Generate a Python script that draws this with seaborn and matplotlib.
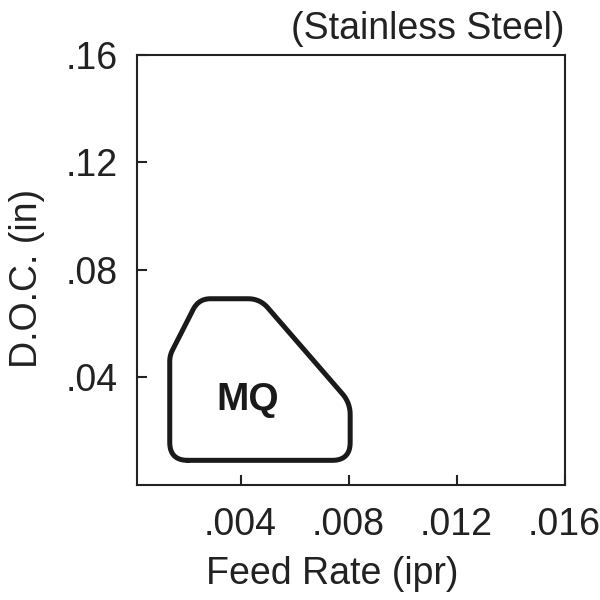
import numpy as np
import matplotlib
matplotlib.use("Agg")
import matplotlib.pyplot as plt
import seaborn as sns

# Chart data
region_label = "MQ"
region_feed = [0.00138, 0.00138, 0.00245, 0.00472, 0.00806, 0.00806]   # ipr
region_doc = [0.0091, 0.0481, 0.0692, 0.0692, 0.0305, 0.0091]          # in
corner_radius_px = [18, 6, 12, 12, 12, 18]
label_pos = (0.00425, 0.0279)

x_ticks = [0.004, 0.008, 0.012, 0.016]
x_tick_labels = [".004", ".008", ".012", ".016"]
y_ticks = [0.04, 0.08, 0.12, 0.16]
y_tick_labels = [".04", ".08", ".12", ".16"]

sns.set_theme(style="white")
plt.rcParams['font.family'] = ['Liberation Sans', 'DejaVu Sans']
ink = "#222222"

fig = plt.figure(figsize=(6, 6), dpi=100)
ax = fig.add_axes([0.228, 0.192, 0.713, 0.717])
ax.set_xlim(0.00016, 0.016)
ax.set_ylim(0.0, 0.16)

# round the polygon corners in screen space so radii are in pixels
pts = ax.transData.transform(np.column_stack([region_feed, region_doc]))
n = len(pts)
outline = []
for i in range(n):
    v = pts[i]
    p = pts[i - 1]
    q = pts[(i + 1) % n]
    r = corner_radius_px[i]
    t1 = v + (p - v) / np.linalg.norm(p - v) * r
    t2 = v + (q - v) / np.linalg.norm(q - v) * r
    for t in np.linspace(0, 1, 20):
        outline.append((1 - t) ** 2 * t1 + 2 * (1 - t) * t * v + t ** 2 * t2)
outline.append(outline[0])
outline = ax.transData.inverted().transform(np.array(outline))

sns.lineplot(x=outline[:, 0], y=outline[:, 1], sort=False, estimator=None,
             color="#1a1a1a", linewidth=3.6, solid_joinstyle="round",
             solid_capstyle="round", ax=ax)
ax.text(label_pos[0], label_pos[1], region_label, fontsize=28, fontweight="bold",
        color="#1a1a1a", ha="center", va="baseline")

ax.set_xticks(x_ticks)
ax.set_xticklabels(x_tick_labels)
ax.set_yticks(y_ticks)
ax.set_yticklabels(y_tick_labels)
ax.tick_params(axis="both", direction="in", length=7, width=1.5, color=ink,
               labelsize=27, labelcolor=ink, bottom=True, left=True)
ax.tick_params(axis="x", pad=16)
ax.tick_params(axis="y", pad=14)

for s in ax.spines.values():
    s.set_color(ink)
    s.set_linewidth(1.5)

ax.set_xlabel("Feed Rate (ipr)", fontsize=27, color=ink)
ax.set_ylabel("D.O.C. (in)", fontsize=27, color=ink)
ax.xaxis.set_label_coords(0.458, -0.165)
ax.yaxis.set_label_coords(-0.215, 0.479)
ax.set_title("(Stainless Steel)", loc="right", fontsize=27, color=ink, pad=11)

fig.savefig("out.png", dpi=100)
